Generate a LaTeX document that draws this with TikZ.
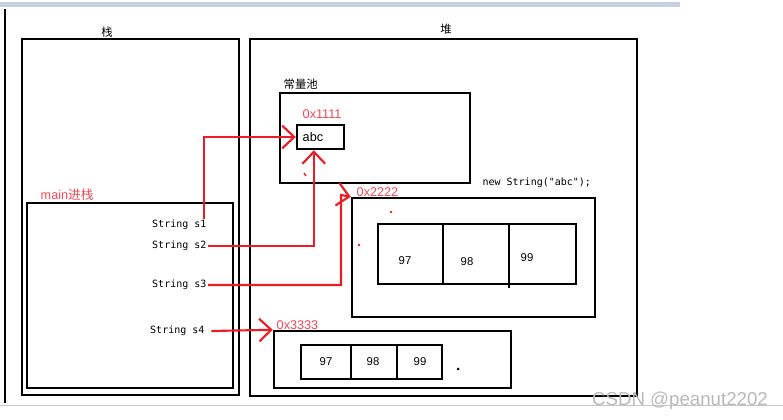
\documentclass[tikz,border=0pt]{standalone}
\usepackage{fontspec}
\setmainfont{Liberation Sans}
\setmonofont{DejaVu Sans Mono}
\newfontfamily\cjk{Noto Sans CJK SC}
\usetikzlibrary{arrows.meta,fit}
\definecolor{pen}{RGB}{237,28,36}
\definecolor{tag}{RGB}{242,72,84}
\definecolor{bar}{RGB}{198,210,226}
\tikzset{box/.style={draw,line width=1.8pt,inner sep=0pt},
  ptr/.style={draw=pen,line width=1.6pt,-{Straight Barb[length=9pt,width=17pt]}},
  addr/.style={text=tag,anchor=west,font=\fontsize{9.5}{10}\selectfont},
  decl/.style={anchor=east,inner sep=1pt,font=\ttfamily\fontsize{7.5}{9}\selectfont},
  zh/.style={font=\cjk\fontsize{8.5}{10}\selectfont}}

\begin{document}
\begin{tikzpicture}[x=.75pt,y=-.75pt,font=\fontsize{8.5}{10}\selectfont]
\useasboundingbox (0,0) rectangle (783,420);
\fill[bar] (0,2) rectangle (680,7);\draw[gray!45] (0,405)--(783,405);\draw[line width=1.8pt] (5,9)--(5,403);
\node[box,fit={(22,39) (239,395)}] (stack) {};\node[box,fit={(27,203) (233,388)}] (main) {};
\node[box,fit={(250,39) (637,396)}] (heap) {};\node[box,fit={(280,93) (470,183)}] (pool) {};
\node[box,fit={(297,125) (344,149)}] (abc) {};
\node[box,fit={(352,198) (595,317)}] (arrA) {};\node[box,fit={(274,331) (511,388)}] (arrB) {};
\node[zh] (stacklbl) at (107,32) {栈};\node[zh] (heaplbl) at (446,29) {堆};
\node[zh,anchor=west] (poollbl) at (279,84) {常量池};
\node[addr] (mainlbl) at (36,195) {main{\cjk 进栈}};
\node[addr] (adr1) at (298,114) {0x1111};\node[addr] (adr2) at (352,192) {0x2222};\node[addr] (adr3) at (272,325) {0x3333};
\node[anchor=west,font=\fontsize{9.5}{10}\selectfont] (abctxt) at (298,137) {abc};
\node[decl,anchor=west] (newtxt) at (481,183) {new String("abc");};
% char arrays
\draw[line width=1.8pt] (378,224) rectangle (576,284) (443,224)--(443,284) (509,224)--(509,288);
\foreach \v/\x/\yy in {97/405/261,98/467/262,99/527/258} \node (a\v) at (\x,\yy) {\v};
\draw[line width=1.8pt] (301,345) rectangle (442,379) (351,345)--(351,379) (397,345)--(397,380);
\foreach \v/\x in {97/326,98/373,99/420} \node (b\v) at (\x,362) {\v};
% locals of main
\foreach \n/\x/\yy in {1/208/225,2/208/246,3/208/285,4/206/331} \node[decl] (s\n) at (\x,\yy) {String s\n};
\coordinate (k3) at (341,195);
\draw[ptr] ([xshift=-3pt]s1.north east) |- (abc.west);
\draw[ptr] (s2.east) -| ([xshift=-5pt]abc.south);
\draw[ptr] (s3.east) -| (k3) -- (arrA.north west);
\draw[ptr] ([xshift=4pt]s4.east) -- (arrB.north west);
\draw[pen,line width=1pt] (304,173)--(306,176);\fill[pen] (391,212) circle (1.3) (359,245) circle (1.3);
\fill (458,369) circle (1.5);
\node[text=gray!55,font=\fontsize{14}{16}\selectfont] (mark) at (680,401) {CSDN @peanut2202};
\end{tikzpicture}
\end{document}
